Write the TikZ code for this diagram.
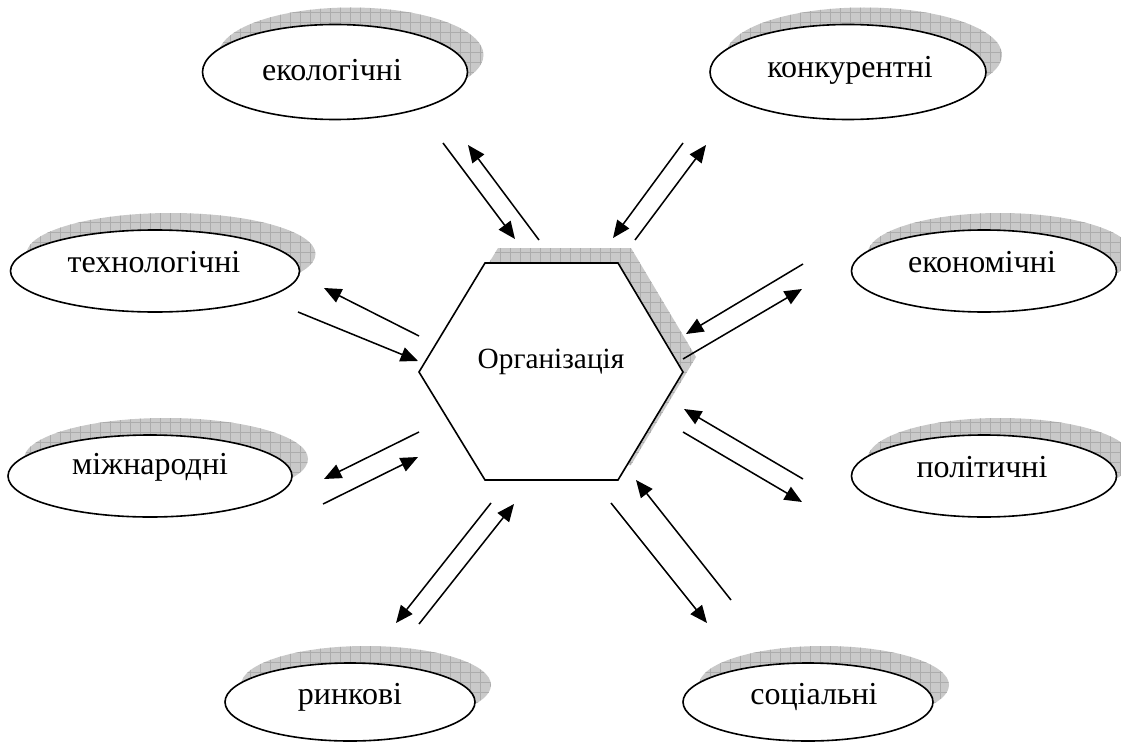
\documentclass[tikz,border=0pt]{standalone}
\usepackage{fontspec}
\setmainfont{Liberation Serif}
\usetikzlibrary{arrows.meta,patterns.meta,shapes.geometric}
\tikzset{
  shad/.style={ellipse, inner sep=0pt, draw=none,
    preaction={fill=gray!42},
    pattern={Lines[angle=0,distance=7.5pt,line width=0.3pt]}, pattern color=gray!65,
    postaction={pattern={Lines[angle=90,distance=7.5pt,line width=0.3pt]}, pattern color=gray!65}},
  shadpath/.style={draw=none,
    preaction={fill=gray!42},
    pattern={Lines[angle=0,distance=7.5pt,line width=0.3pt]}, pattern color=gray!65,
    postaction={pattern={Lines[angle=90,distance=7.5pt,line width=0.3pt]}, pattern color=gray!65}},
  elli/.style={ellipse, inner sep=0pt, draw=black, line width=1.2pt, fill=white},
  lbl/.style={font=\fontsize{24}{26}\selectfont, inner sep=0pt},
  conn/.style={line width=1.15pt, -{Triangle[length=13pt,width=11pt]}},
}
\newcommand{\myoval}[8]{% name, cx, cy, w, h, tx, ty, text
  \node[shad, minimum width=#4*0.75pt, minimum height=#5*0.75pt] (#1s) at (#2+16,#3-17) {};
  \node[elli, minimum width=#4*0.75pt, minimum height=#5*0.75pt] (#1) at (#2,#3) {};
  \node[lbl] (#1t) at (#6,#7) {#8};
}
\begin{document}
\begin{tikzpicture}[x=0.75pt,y=-0.75pt]
\useasboundingbox (0,0) rectangle (1121,742);
\myoval{eko}{335}{72}{265}{95}{332}{70}{екологічні}
\myoval{kon}{848}{72}{276}{95}{850}{70}{конкурентні}
\myoval{tex}{155}{271}{289}{82}{154}{262}{технологічні}
\myoval{ekn}{984}{271}{265}{82}{982}{262}{економічні}
\myoval{mij}{150}{476}{284}{82}{150}{467}{міжнародні}
\myoval{pol}{984}{476}{265}{82}{982}{467}{політичні}
\myoval{rin}{350}{702}{250}{78}{350}{697}{ринкові}
\myoval{soc}{808}{702}{250}{78}{814}{697}{соціальні}
% hexagon
\coordinate (h1) at (419,372);
\coordinate (h2) at (485,263);
\coordinate (h3) at (618,263);
\coordinate (h4) at (683,372);
\coordinate (h5) at (618,480);
\coordinate (h6) at (485,480);
\path[shadpath] ([shift={(13,-15)}]h1) -- ([shift={(13,-15)}]h2) -- ([shift={(13,-15)}]h3)
  -- ([shift={(13,-15)}]h4) -- ([shift={(13,-15)}]h5) -- ([shift={(13,-15)}]h6) -- cycle;
\draw[line width=1.2pt, fill=white, line join=miter] (h1) -- (h2) -- (h3) -- (h4) -- (h5) -- (h6) -- cycle;
\node[lbl, font=\fontsize{22}{24}\selectfont] (org) at (551,362) {Організація};
% arrow end points
\coordinate (a1) at (443,143); \coordinate (b1) at (515,239);
\coordinate (a2) at (539,240); \coordinate (b2) at (468,145);
\coordinate (a3) at (683,143); \coordinate (b3) at (613,238);
\coordinate (a4) at (635,240); \coordinate (b4) at (706,145);
\coordinate (a5) at (803,264); \coordinate (b5) at (686,334);
\coordinate (a6) at (683,359); \coordinate (b6) at (802,289);
\coordinate (a7) at (803,479); \coordinate (b7) at (684,409);
\coordinate (a8) at (683,432); \coordinate (b8) at (802,502);
\coordinate (a9) at (419,336); \coordinate (b9) at (324,288);
\coordinate (a10) at (298,312); \coordinate (b10) at (418,361);
\coordinate (a11) at (419,432); \coordinate (b11) at (324,479);
\coordinate (a12) at (323,504); \coordinate (b12) at (418,457);
\coordinate (a13) at (491,503); \coordinate (b13) at (396,623);
\coordinate (a14) at (419,624); \coordinate (b14) at (514,504);
\coordinate (a15) at (611,503); \coordinate (b15) at (707,623);
\coordinate (a16) at (731,600); \coordinate (b16) at (636,480);
\foreach \i in {1,...,16} { \draw[conn] (a\i) -- (b\i); }
\end{tikzpicture}
\end{document}
